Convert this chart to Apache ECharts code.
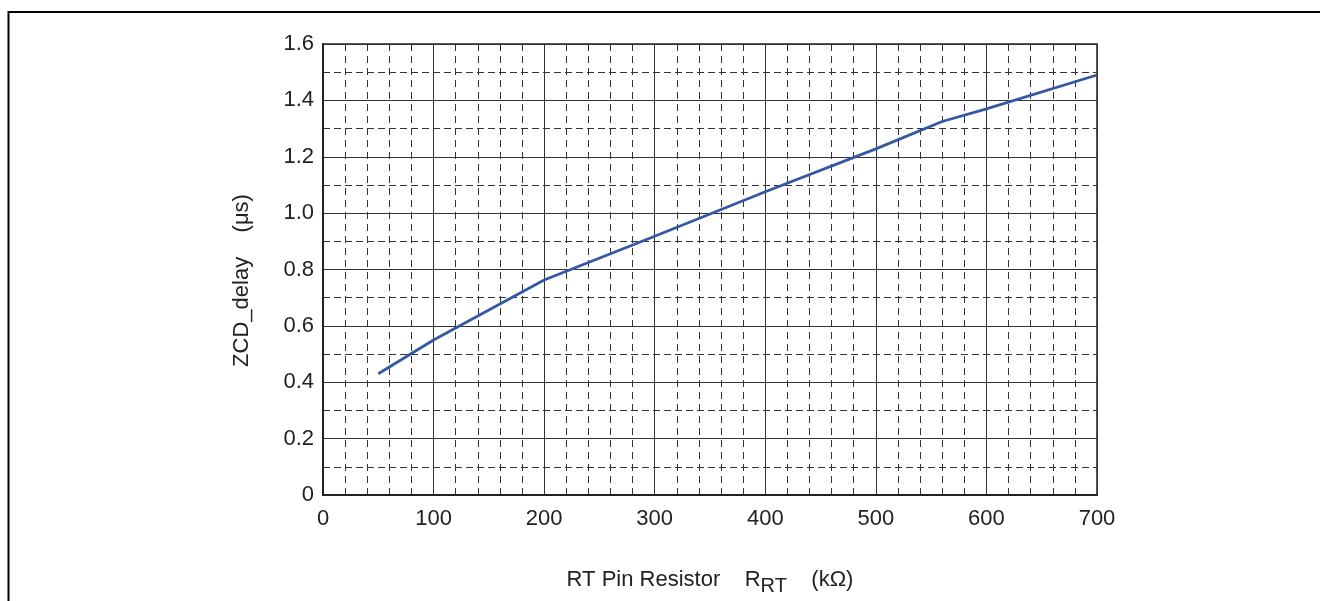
<!DOCTYPE html>
<html>
<head>
<meta charset="UTF-8">
<title>ZCD delay</title>
<script src="https://cdn.jsdelivr.net/npm/echarts@6/dist/echarts.min.js"></script>
<style>
  html, body { margin: 0; padding: 0; background: #fff; }
  #main { width: 1320px; height: 601px; }
</style>
</head>
<body>
<div id="main"></div>
<script>
// RT resistor (kOhm) vs ZCD delay (us)
var rtValues = [50, 100, 200, 300, 400, 500, 560, 600, 700];
var delayValues = [0.43, 0.55, 0.763, 0.918, 1.076, 1.228, 1.325, 1.37, 1.49];

var points = [];
for (var i = 0; i < rtValues.length; i++) {
  points.push([rtValues[i], delayValues[i]]);
}

var myChart = echarts.init(document.getElementById('main'));
var option = {
  backgroundColor: '#fff',
  animation: false,
  graphic: [{
    type: 'rect',
    shape: { x: 8.5, y: 12, width: 1400, height: 700 },
    style: { fill: 'none', stroke: '#000', lineWidth: 2 }
  }],
  grid: {
    left: 323, top: 44, width: 774, height: 455,
    show: true, borderColor: '#222', borderWidth: 1.5, backgroundColor: 'transparent'
  },
  xAxis: {
    type: 'value', min: 0, max: 700, interval: 100,
    name: '{a|RT Pin Resistor    R}{sub|RT}{a|    (kΩ)}',
    nameLocation: 'middle', nameGap: 68,
    nameTextStyle: {
      rich: {
        a: { fontFamily: 'Liberation Sans', fontSize: 22, color: '#222' },
        sub: { fontFamily: 'Liberation Sans', fontSize: 20, color: '#222', padding: [13, 0, 0, 0] }
      }
    },
    axisLine: { show: true, lineStyle: { color: '#222', width: 2 } },
    axisTick: { show: false },
    axisLabel: { fontFamily: 'Liberation Sans', fontSize: 22, color: '#222', margin: 13 },
    splitLine: { show: true, lineStyle: { color: '#333', width: 1 } },
    minorTick: { show: false, splitNumber: 5 },
    minorSplitLine: { show: true, lineStyle: { color: '#333', width: 1, type: [7, 5] } }
  },
  yAxis: {
    type: 'value', min: 0, max: 1.6, interval: 0.2,
    name: 'ZCD_delay    (μs)',
    nameLocation: 'middle', nameGap: 70,
    nameTextStyle: { fontFamily: 'Liberation Sans', fontSize: 22, color: '#222', padding: [0, 22, 0, 0] },
    axisLine: { show: true, lineStyle: { color: '#222', width: 2 } },
    axisTick: { show: false },
    axisLabel: {
      fontFamily: 'Liberation Sans', fontSize: 22, color: '#222', margin: 9,
      formatter: function (v) { return v === 0 ? '0' : v.toFixed(1); }
    },
    splitLine: { show: true, lineStyle: { color: '#333', width: 1 } },
    minorTick: { show: false, splitNumber: 2 },
    minorSplitLine: { show: true, lineStyle: { color: '#333', width: 1, type: [7, 4] } }
  },
  series: [{
    type: 'line',
    data: points,
    symbol: 'none',
    lineStyle: { color: '#3558a3', width: 2.8 }
  }]
};
myChart.setOption(option);
</script>
</body>
</html>
